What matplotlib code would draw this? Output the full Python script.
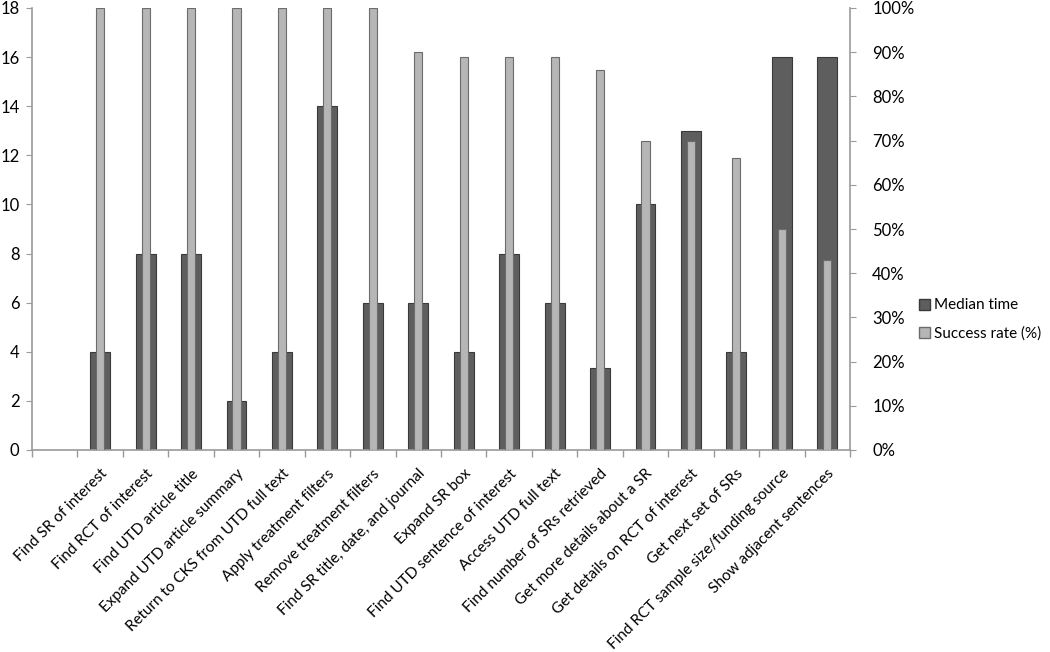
import matplotlib
matplotlib.use("Agg")
import matplotlib.pyplot as plt
from matplotlib.patches import Patch
import numpy as np

plt.rcParams['font.family'] = ['Lato', 'DejaVu Sans']

categories = ["", "Find SR of interest", "Find RCT of interest", "Find UTD article title",
              "Expand UTD article summary", "Return to CKS from UTD full text",
              "Apply treatment filters", "Remove treatment filters",
              "Find SR title, date, and journal", "Expand SR box",
              "Find UTD sentence of interest", "Access UTD full text",
              "Find number of SRs retrieved", "Get more details about a SR",
              "Get details on RCT of interest", "Get next set of SRs",
              "Find RCT sample size/funding source", "Show adjacent sentences"]
median_time = [0, 4, 8, 8, 2, 4, 14, 6, 6, 4, 8, 6, 3.35, 10, 13, 4, 16, 16]
success_rate = [0, 100, 100, 100, 100, 100, 100, 100, 90, 89, 89, 89, 86, 70, 70, 66, 50, 43]
left_ticks = [0, 2, 4, 6, 8, 10, 12, 14, 16, 18]
right_ticks = [0, 10, 20, 30, 40, 50, 60, 70, 80, 90, 100]

fig = plt.figure(figsize=(10.5, 6.52), dpi=100)
ax = fig.add_axes([32/1050, 1-450/652, (850-32)/1050, (450-8)/652])
ax2 = ax.twinx()

x = np.arange(len(categories))
dark = '#5e5e5e'
dark_e = '#3a3a3a'
light = '#b6b6b6'
light_e = '#6c6c6c'
ax.bar(x[1:], median_time[1:], width=0.44, color=dark, edgecolor=dark_e, linewidth=0.8, zorder=2)
ax2.bar(x[1:], success_rate[1:], width=0.18, color=light, edgecolor=light_e, linewidth=0.8, zorder=3)

ax.set_xlim(-0.5, len(categories) - 0.5)
ax.set_ylim(0, 18)
ax2.set_ylim(0, 100)
ax.set_yticks(left_ticks)
ax.set_yticklabels([str(t) for t in left_ticks], fontsize=12)
ax2.set_yticks(right_ticks)
ax2.set_yticklabels([f"{t}%" for t in right_ticks], fontsize=12)

ax.set_xticks(x)
ax.set_xticklabels(categories, rotation=45, ha='right', rotation_mode='anchor', fontsize=11)
ax.tick_params(axis='x', which='major', length=0, pad=12)
ax.set_xticks(np.arange(len(categories) + 1) - 0.5, minor=True)
ax.tick_params(axis='x', which='minor', length=5, direction='out', color='#9a9a9a', width=1)

spine_c = '#9a9a9a'
for a in (ax, ax2):
    a.spines['top'].set_visible(False)
    for s in ('left', 'right', 'bottom'):
        a.spines[s].set_color(spine_c)
        a.spines[s].set_linewidth(1.2)
ax.spines['right'].set_visible(False)
ax2.spines['left'].set_visible(False)
ax2.spines['bottom'].set_visible(False)
ax.tick_params(axis='y', length=4, color=spine_c, pad=5)
ax2.tick_params(axis='y', length=4, color=spine_c, pad=12)

handles = [Patch(facecolor=dark, edgecolor=dark_e, label='Median time'),
           Patch(facecolor=light, edgecolor=light_e, label='Success rate (%)')]
fig.legend(handles=handles, loc='center left', bbox_to_anchor=(0.872, 0.51),
           frameon=False, fontsize=11, handlelength=0.75, handleheight=0.75,
           handletextpad=0.25, labelspacing=0.9, borderpad=0.2, borderaxespad=0.0)

fig.savefig('out.png', dpi=100)
